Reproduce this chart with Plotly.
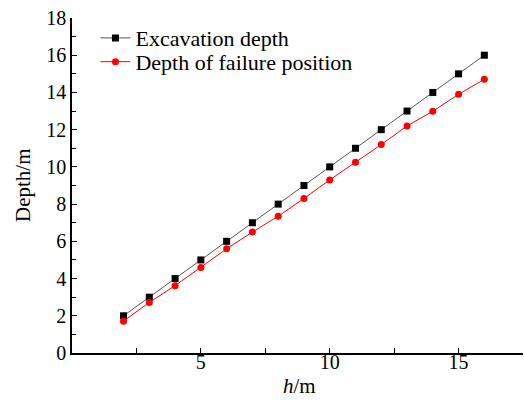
import plotly.graph_objects as go

h = [2, 3, 4, 5, 6, 7, 8, 9, 10, 11, 12, 13, 14, 15, 16]
excavation_depth = [2, 3, 4, 5, 6, 7, 8, 9, 10, 11, 12, 13, 14, 15, 16]
failure_depth = [1.71, 2.72, 3.62, 4.6, 5.6, 6.5, 7.35, 8.3, 9.3, 10.25, 11.2, 12.2, 12.99, 13.9, 14.71]

x_ticks = [5, 10, 15]
y_ticks = [0, 2, 4, 6, 8, 10, 12, 14, 16, 18]

FONT = "Liberation Serif, Times New Roman, serif"
FS = 22
TFS = 20

fig = go.Figure()
fig.add_trace(go.Scatter(
    x=h, y=excavation_depth, mode="lines+markers", name="Excavation depth",
    line=dict(color="#555555", width=1),
    marker=dict(symbol="square", size=7, color="black"),
    legend="legend",
))
fig.add_trace(go.Scatter(
    x=h, y=failure_depth, mode="lines+markers", name="Depth of failure position",
    line=dict(color="red", width=1),
    marker=dict(symbol="circle", size=7, color="red"),
    legend="legend2",
))

leg_common = dict(xanchor="left", yanchor="middle", bgcolor="rgba(0,0,0,0)",
                  font=dict(size=FS), borderwidth=0)

fig.update_layout(
    width=524, height=400,
    margin=dict(l=72, r=1, t=18, b=47),
    paper_bgcolor="white", plot_bgcolor="white",
    font=dict(family=FONT, size=FS, color="black"),
    showlegend=True,
    legend=dict(x=0.052, y=0.940, **leg_common),
    legend2=dict(x=0.052, y=0.869, **leg_common),
    xaxis=dict(
        range=[0, 17.5], tickvals=x_ticks, ticks="inside", ticklen=5,
        tickwidth=1, tickcolor="black",
        showline=True, linecolor="black", linewidth=1.5, showgrid=False,
        zeroline=False, mirror=False,
        minor=dict(tickvals=[2.5, 7.5, 12.5, 17.5], ticks="inside", ticklen=5, tickcolor="black", showgrid=False),
        tickfont=dict(size=TFS),
        ticklabelstandoff=-10,
    ),
    yaxis=dict(
        range=[0, 18], tickvals=y_ticks, ticks="inside", ticklen=5,
        tickwidth=1, tickcolor="black",
        showline=True, linecolor="black", linewidth=1.5, showgrid=False,
        zeroline=False, mirror=False,
        minor=dict(tickvals=[1, 3, 5, 7, 9, 11, 13, 15, 17], ticks="inside", ticklen=4, tickcolor="black", showgrid=False),
        tickfont=dict(size=TFS),
    ),
    annotations=[
        dict(text="<i>h</i>/m", xref="paper", yref="paper", x=0.5055, y=-0.1373,
             xanchor="center", yanchor="bottom", showarrow=False, font=dict(size=21),
             borderpad=0),
        dict(text="Depth/m", xref="paper", yref="paper", x=-0.1086, y=0.5015,
             xanchor="center", yanchor="middle", textangle=-90, showarrow=False, font=dict(size=21)),
    ],
)

fig.write_html("out.html")
